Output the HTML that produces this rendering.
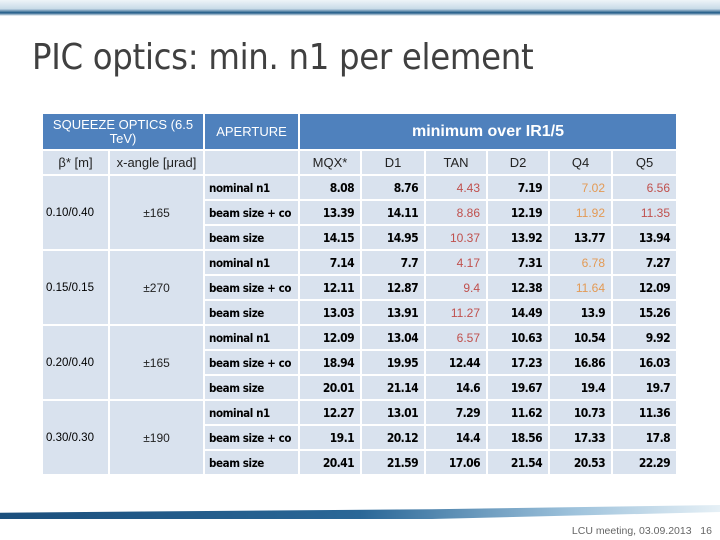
<!DOCTYPE html>
<html><head><meta charset="utf-8">
<style>
body{margin:0;width:720px;height:540px;position:relative;background:#fff;overflow:hidden;font-family:"Liberation Sans",sans-serif}
.band{position:absolute;left:0;width:720px}
#title{position:absolute;left:32px;top:37px;font-size:36px;color:#404040;font-family:"DejaVu Sans Condensed","Liberation Sans",sans-serif;letter-spacing:-0.3px}
.c{position:absolute;box-sizing:border-box;background:#d9e2ee;font-size:12px;display:flex;align-items:center;color:#000}
.h{background:#4f81bd;color:#fff;justify-content:center;text-align:center;font-size:13px;line-height:14px}
.sub{justify-content:center;font-size:13px;color:#222}
.num{justify-content:flex-end;padding-right:6px;font-weight:bold;font-family:"DejaVu Sans Condensed","Liberation Sans",sans-serif;font-size:12px;letter-spacing:-0.6px}
.red{color:#c0504d;font-weight:normal;font-family:"Liberation Sans",sans-serif;letter-spacing:0}
.org{color:#e39a55;font-weight:normal;font-family:"Liberation Sans",sans-serif;letter-spacing:0}
.lab{padding-left:4px;font-weight:bold;font-family:"DejaVu Sans Condensed","Liberation Sans",sans-serif;font-size:11.5px;letter-spacing:-0.4px}
#footer{position:absolute;right:8px;top:525px;font-size:10.5px;color:#666}
</style></head><body>
<div class="band" style="top:0;height:16px;background:linear-gradient(180deg,#eef4f8 0%,#c9dbe8 55%,#1f5a87 80%,#fff 100%)"></div>
<div id="title">PIC optics: min. n1 per element</div>
<div id="tbl"></div>
<div class="band" style="top:505px;height:14px;background:linear-gradient(90deg,#1b4f7c 0%,#2a6797 50%,#9fc3dc 80%,#e6f0f6 100%);clip-path:polygon(0 55%,60% 30%,100% 0,100% 50%,60% 100%,0 100%)"></div>
<div id="footer">LCU meeting, 03.09.2013 &nbsp; 16</div>
<script>
const optics=["0.10/0.40","0.15/0.15","0.20/0.40","0.30/0.30"];
const angles=["±165","±270","±165","±190"];
const apertures=["nominal n1","beam size + co","beam size"];
const elements=["MQX*","D1","TAN","D2","Q4","Q5"];
const values=[
[8.08,8.76,4.43,7.19,7.02,6.56],[13.39,14.11,8.86,12.19,11.92,11.35],[14.15,14.95,10.37,13.92,13.77,13.94],
[7.14,7.7,4.17,7.31,6.78,7.27],[12.11,12.87,9.4,12.38,11.64,12.09],[13.03,13.91,11.27,14.49,13.9,15.26],
[12.09,13.04,6.57,10.63,10.54,9.92],[18.94,19.95,12.44,17.23,16.86,16.03],[20.01,21.14,14.6,19.67,19.4,19.7],
[12.27,13.01,7.29,11.62,10.73,11.36],[19.1,20.12,14.4,18.56,17.33,17.8],[20.41,21.59,17.06,21.54,20.53,22.29]];
const colors=[
["","","r","","o","r"],["","","r","","o","r"],["","","r","","",""],
["","","r","","o",""],["","","r","","o",""],["","","r","","",""],
["","","r","","",""],["","","","","",""],["","","","","",""],
["","","","","",""],["","","","","",""],["","","","","",""]];
const X=[43,110,205,300,362,426,488,550,613,676];
const T=document.getElementById('tbl');
function cell(x0,x1,y0,y1,cls,txt,name){
 const d=document.createElement('div');
 d.className='c '+cls;
 d.style.left=x0+'px';d.style.top=y0+'px';d.style.width=(x1-x0-2)+'px';d.style.height=(y1-y0-2)+'px';
 d.textContent=txt;
 
 
 T.appendChild(d);return d;
}
cell(43,205,114,151,'h','SQUEEZE OPTICS (6.5 TeV)','header-squeeze-optics');
cell(205,300,114,151,'h','APERTURE','header-aperture');
const m=cell(300,678,114,151,'h','minimum over IR1/5','header-minimum');m.style.fontWeight='bold';m.style.fontSize='16px';
cell(43,110,151,176,'sub','β* [m]','header-beta');
cell(110,205,151,176,'sub','x-angle [μrad]','header-xangle');
cell(205,300,151,176,'sub','','header-blank');
elements.forEach((e,i)=>cell(X[i+3],i==5?678:X[i+4],151,176,'sub',e,'header-'+e.toLowerCase().replace('*','')));
const R0=176,RH=25;
optics.forEach((o,g)=>{
 const y0=R0+g*3*RH,y1=y0+3*RH;
 const a=cell(43,110,y0,y1,'',o,'beta-'+g);a.style.paddingLeft='3px';a.style.fontSize='11.5px';
 const b=cell(110,205,y0,y1,'sub',angles[g],'xangle-'+g);b.style.fontSize='12px';
});
values.forEach((row,r)=>{
 const y0=R0+r*RH,y1=y0+RH;
 cell(205,300,y0,y1,'lab',apertures[r%3],'aperture-label-'+r);
 row.forEach((v,i)=>{
  const c=colors[r][i];
  cell(X[i+3],i==5?678:X[i+4],y0,y1,'num'+(c=='r'?' red':c=='o'?' org':''),String(v),'value-r'+r+'-'+elements[i].toLowerCase().replace('*',''));
 });
});
</script>
</body></html>
